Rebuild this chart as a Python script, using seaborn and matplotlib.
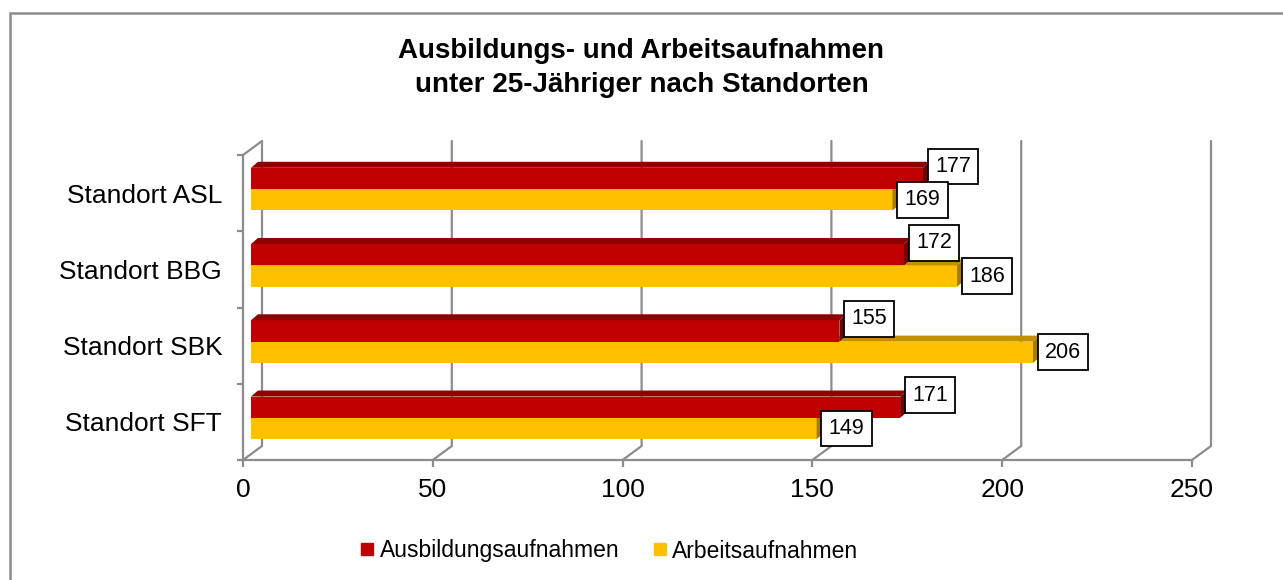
import matplotlib
matplotlib.use('Agg')
import matplotlib.pyplot as plt
import matplotlib.transforms as mtransforms
from matplotlib.patches import Polygon, Rectangle
from matplotlib.lines import Line2D
import seaborn as sns
import pandas as pd

# Chart data
standorte = ['Standort ASL', 'Standort BBG', 'Standort SBK', 'Standort SFT']
ausbildung = [177, 172, 155, 171]
arbeit = [169, 186, 206, 149]
series = ['Ausbildungsaufnahmen', 'Arbeitsaufnahmen']
x_ticks = [0, 50, 100, 150, 200, 250]
title = 'Ausbildungs- und Arbeitsaufnahmen\nunter 25-Jähriger nach Standorten'

df = pd.DataFrame({
    'Standort': standorte * 2,
    'Serie': [series[0]] * len(standorte) + [series[1]] * len(standorte),
    'Wert': ausbildung + arbeit,
})

W, H, DPI = 1283, 580, 100
GRAY = '#8C8C8C'
front_col = {series[0]: '#C00000', series[1]: '#FFC000'}
top_col = {series[0]: '#8E0000', series[1]: '#C49000'}
side_col = {series[0]: '#760000', series[1]: '#A87C00'}

sns.set_style('white')
plt.rcParams['font.family'] = ['Liberation Sans', 'DejaVu Sans']
plt.rcParams['text.color'] = 'black'
plt.rcParams['xtick.labelcolor'] = 'black'
plt.rcParams['ytick.labelcolor'] = 'black'

fig = plt.figure(figsize=(W / DPI, H / DPI), dpi=DPI)
ax = fig.add_axes([243 / W, 1 - 460 / H, (1192 - 243) / W, (460 - 155) / H])

sns.barplot(data=df, y='Standort', x='Wert', hue='Serie', order=standorte,
            hue_order=series, palette=front_col, width=0.56, orient='h',
            saturation=1, errorbar=None, legend=False, ax=ax)

ax.set_xlim(0, 250)
ax.set_ylim(len(standorte) - 0.5, -0.5)
ax.set_xlabel('')
ax.set_ylabel('')

# axes styling
for side in ['top', 'right']:
    ax.spines[side].set_visible(False)
for side in ['left', 'bottom']:
    ax.spines[side].set_color(GRAY)
    ax.spines[side].set_linewidth(1.6)
ax.set_xticks(x_ticks)
ax.set_xticklabels([str(v) for v in x_ticks], fontsize=19)
ax.tick_params(axis='x', length=5, width=1.6, color=GRAY, pad=8, bottom=True)
ax.set_yticks(range(len(standorte)))
ax.set_yticklabels(standorte, fontsize=19)
ax.tick_params(axis='y', which='major', length=0, pad=15)
ax.set_yticks([i - 0.5 for i in range(len(standorte) + 1)], minor=True)
ax.tick_params(axis='y', which='minor', length=4.3, width=1.6, color=GRAY, left=True)

ident = mtransforms.IdentityTransform()
DX_WALL, DY_WALL = 19, 14

# back wall gridlines with floor diagonals
for v in x_ticks:
    fx, fy = ax.transData.transform((v, len(standorte) - 0.5))
    tx, ty = ax.transData.transform((v, -0.5))
    ax.add_line(Line2D([fx, fx + DX_WALL, tx + DX_WALL], [fy, fy + DY_WALL, ty + DY_WALL],
                       transform=ident, color=GRAY, lw=1.6, zorder=0.5, clip_on=False))
lx, ly = ax.transData.transform((0, -0.5))
ax.add_line(Line2D([lx, lx + DX_WALL], [ly, ly + DY_WALL], transform=ident,
                   color=GRAY, lw=1.6, zorder=0.5, clip_on=False))

# pseudo 3D bars
bars = list(ax.patches)
shift = mtransforms.offset_copy(ax.transData, fig=fig, x=8, y=4, units='dots')
DX, DY = 7, 6
n = len(standorte)
for i, bar in enumerate(bars):
    s = series[i // n]
    z = 3 if s == series[0] else 2
    bar.set_transform(shift)
    bar.set_edgecolor('none')
    bar.set_zorder(z)
    bar.set_clip_on(False)
    (x0, y0), (x1, y1) = shift.transform([(bar.get_x(), bar.get_y()),
                                          (bar.get_x() + bar.get_width(), bar.get_y() + bar.get_height())])
    top, bot = max(y0, y1), min(y0, y1)
    ax.add_patch(Polygon([(x0, top), (x1, top), (x1 + DX, top + DY), (x0 + DX, top + DY)],
                         closed=True, transform=ident, fc=top_col[s], ec='none',
                         zorder=z + 0.1, clip_on=False))
    ax.add_patch(Polygon([(x1, top), (x1 + DX, top + DY), (x1 + DX, bot + DY), (x1, bot)],
                         closed=True, transform=ident, fc=side_col[s], ec='none',
                         zorder=z + 0.1, clip_on=False))
    yoff = 12 if s == series[0] else 0
    ax.annotate(f'{int(round(bar.get_width()))}', xy=(x1 + 12, (top + bot) / 2 + yoff),
                xycoords='figure pixels', ha='left', va='center', fontsize=15.5,
                color='black', zorder=5,
                bbox=dict(boxstyle='square,pad=0.34', fc='white', ec='black', lw=1.3))

# legend
handles = [Line2D([], [], marker='s', ls='none', markersize=8, color=front_col[s]) for s in series]
fig.legend(handles, series, loc='center', bbox_to_anchor=(610 / W, 1 - 551 / H), ncol=2,
           frameon=False, fontsize=16.5, handletextpad=0.3, handlelength=0.5,
           columnspacing=1.5)

# title
fig.text(0.5, 1 - 68 / H, title, ha='center', va='center', fontsize=20,
         fontweight='bold', linespacing=1.45)

# chart border
fig.add_artist(Rectangle((9.5 / W, -0.1), 1.2, (H - 13) / H + 0.1, transform=fig.transFigure,
                         fill=False, ec=GRAY, lw=1.8))

fig.savefig('out.png', dpi=DPI)
plt.close(fig)
